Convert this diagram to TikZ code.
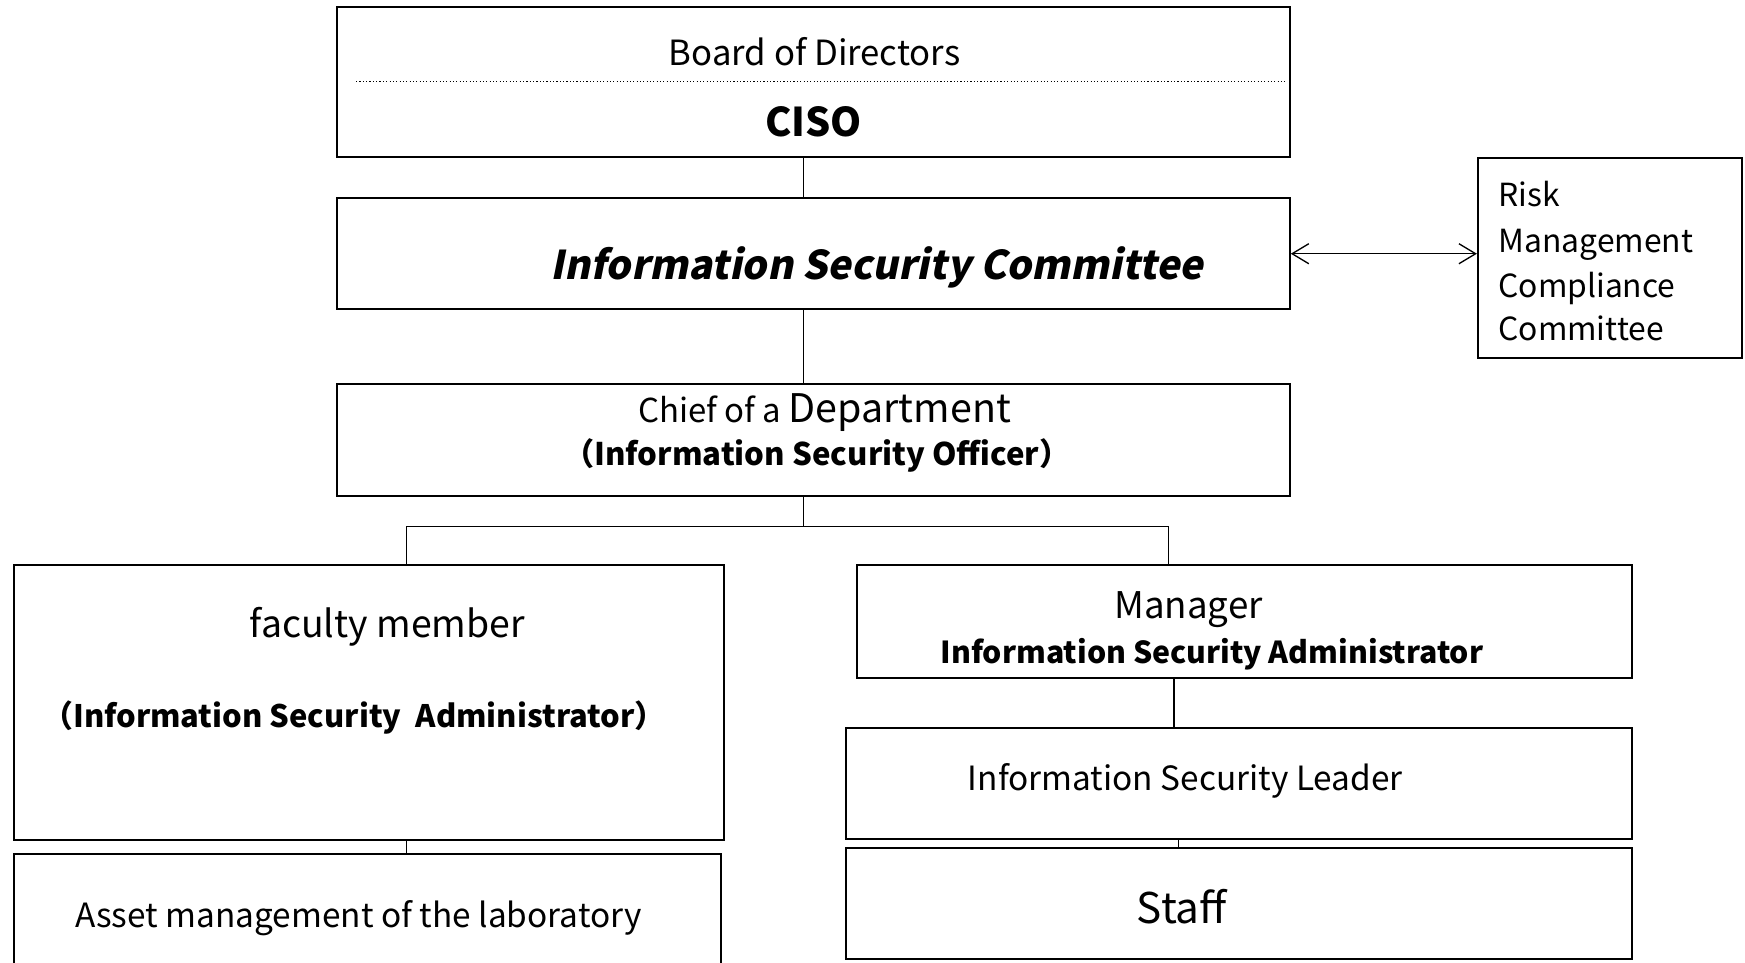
\documentclass[tikz,border=0pt]{standalone}
\usepackage{fontspec}
\setmainfont{Noto Sans CJK JP}
\newfontfamily\slantfont{Noto Sans CJK JP}[FakeSlant=0.2, BoldFeatures={FakeSlant=0.2}]
\usetikzlibrary{fit,arrows.meta}
\newcommand{\fs}[1]{\fontsize{#1}{#1}\selectfont}
\begin{document}
\begin{tikzpicture}[x=0.5pt,y=-0.5pt,
  box/.style={draw, line width=0.9pt, inner sep=0pt},
  link/.style={draw, line width=0.6pt},
  lbl/.style={inner sep=0pt, anchor=base},
  lbll/.style={inner sep=0pt, anchor=base west}]
\useasboundingbox (0,0) rectangle (1568,865);
% boxes
\node[box, fit={(303,6)(1159,141)}] (bod) {};
\node[box, fit={(303,178)(1159,278)}] (isc) {};
\node[box, fit={(1328,142)(1565,322)}] (risk) {};
\node[box, fit={(303,345)(1159,446)}] (chief) {};
\node[box, fit={(13,508)(651,755)}] (fac) {};
\node[box, fit={(13,767)(648,880)}] (asset) {};
\node[box, fit={(770,508)(1466,609)}] (mgr) {};
\node[box, fit={(760,654)(1466,754)}] (lead) {};
\node[box, fit={(760,762)(1466,862)}] (staff) {};
% dotted separator
\draw[line width=0.5pt, densely dotted] (320,73) -- (1157,73);
% labels
\node[lbl, font=\fs{15.6}] (tbod) at (732,59) {Board of Directors};
\node[lbl, font=\bfseries\fs{17.8}] (tciso) at (731,123) {CISO};
\node[lbl, font=\slantfont\bfseries\fs{17.8}] (tisc) at (788,251) {Information Security Committee};
\node[lbll, font=\fs{14.3}] (tr1) at (1346,186) {Risk};
\node[lbll, font=\fs{14.3}] (tr2) at (1346,227) {Management};
\node[lbll, font=\fs{14.3}] (tr3) at (1346,267) {Compliance};
\node[lbll, font=\fs{14.3}] (tr4) at (1346,306) {Committee};
\node[lbl] (tch1) at (741,380) {{\fs{14.8}Chief of a }{\fs{17.7}Department}};
\node[lbl, font=\bfseries\fs{14}] (tch2) at (734,418) {（Information Security Officer）};
\node[lbl, font=\fs{16.8}] (tfac1) at (348,573) {faculty member};
\node[lbl, font=\bfseries\fs{13.9}] (tfac2) at (318,654) {（Information Security~~Administrator）};
\node[lbl, font=\fs{15}] (tasset) at (322,833) {Asset management of the laboratory};
\node[lbl, font=\fs{16.5}] (tmgr1) at (1068,556) {Manager};
\node[lbl, font=\bfseries\fs{13.6}] (tmgr2) at (1089,596) {Information Security Administrator};
\node[lbl, font=\fs{15}] (tlead) at (1065,710) {Information Security Leader};
\node[lbl, font=\fs{19}] (tstaff) at (1062,830) {Staff};
% connector x-positions
\coordinate (c1) at (722,0);
\coordinate (cl) at (365,0);
\coordinate (cr) at (1050,0);
\coordinate (cr2) at (1055,0);
\coordinate (cr3) at (1059,0);
\coordinate (hy) at (0,473);
% connectors
\draw[link] (bod.south -| c1) -- (isc.north -| c1);
\draw[link] (isc.south -| c1) -- (chief.north -| c1);
\draw[link] (chief.south -| c1) -- (hy -| c1);
\draw[link] (fac.north -| cl) -- (hy -| cl) -- (hy -| cr) -- (mgr.north -| cr);
\draw[link] (fac.south -| cl) -- (asset.north -| cl);
\draw[link] (mgr.south -| cr2) -- (lead.north -| cr2);
\draw[link] (lead.south -| cr3) -- (staff.north -| cr3);
\draw[link, {Straight Barb[length=7.5pt,width=9pt]}-{Straight Barb[length=7.5pt,width=9pt]}] (isc.east |- 0,228) -- (risk.west |- 0,228);
\end{tikzpicture}
\end{document}
